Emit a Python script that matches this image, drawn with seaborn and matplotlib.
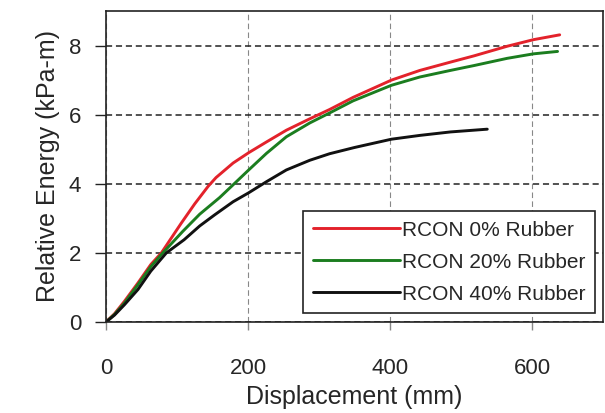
import matplotlib
matplotlib.use("Agg")
import matplotlib.pyplot as plt
import seaborn as sns
import pandas as pd

# Data
x_r0 = [0, 12, 26, 45, 63, 78, 106, 125, 144, 155, 179, 201, 226, 254, 287, 315, 348, 402, 442, 485, 518, 565, 602, 639]
y_r0 = [0, 0.24, 0.6, 1.13, 1.66, 2.0, 2.86, 3.42, 3.93, 4.18, 4.6, 4.9, 5.21, 5.55, 5.88, 6.15, 6.5, 7.0, 7.28, 7.52, 7.7, 7.98, 8.17, 8.31]

x_r20 = [0, 12, 26, 45, 63, 80, 108, 132, 160, 179, 201, 226, 254, 287, 315, 348, 402, 442, 485, 518, 565, 602, 636]
y_r20 = [0, 0.22, 0.55, 1.08, 1.6, 2.0, 2.62, 3.12, 3.6, 3.97, 4.4, 4.88, 5.36, 5.76, 6.05, 6.4, 6.85, 7.09, 7.28, 7.42, 7.63, 7.76, 7.83]

x_r40 = [0, 12, 26, 45, 63, 85, 110, 132, 153, 179, 201, 226, 254, 287, 315, 350, 402, 442, 485, 537]
y_r40 = [0, 0.2, 0.5, 0.94, 1.47, 2.0, 2.38, 2.78, 3.1, 3.48, 3.74, 4.06, 4.4, 4.68, 4.87, 5.05, 5.29, 5.4, 5.5, 5.58]

labels = ["RCON 0% Rubber", "RCON 20% Rubber", "RCON 40% Rubber"]
colors = ["#e3222b", "#1b7d1f", "#111111"]

x_ticks = [0, 200, 400, 600]
y_ticks = [0, 2, 4, 6, 8]

df = pd.concat([
    pd.DataFrame({"x": x_r0, "y": y_r0, "series": labels[0]}),
    pd.DataFrame({"x": x_r20, "y": y_r20, "series": labels[1]}),
    pd.DataFrame({"x": x_r40, "y": y_r40, "series": labels[2]}),
], ignore_index=True)

sns.set_style("white")
plt.rcParams["font.family"] = ["Liberation Sans", "DejaVu Sans"]

fig = plt.figure(figsize=(6.05, 4.13), dpi=100)
ax = fig.add_axes([106 / 605, 1 - 322 / 413, (603 - 106) / 605, (322 - 11) / 413])

sns.lineplot(data=df, x="x", y="y", hue="series", palette=dict(zip(labels, colors)),
             hue_order=labels, sort=False, estimator=None, linewidth=2.1, ax=ax,
             solid_joinstyle="round", solid_capstyle="round")

ax.set_xlim(0, 700)
ax.set_ylim(0, 9)
ax.set_xticks(x_ticks)
ax.set_yticks(y_ticks)

ax.yaxis.grid(True, color="#222222", linestyle=(0, (4, 2.5)), linewidth=1.1)
ax.xaxis.grid(True, color="#888888", linestyle=(0, (5, 3)), linewidth=0.8)
ax.set_axisbelow(True)

for s in ax.spines.values():
    s.set_color("#222222")
    s.set_linewidth(1.2)

ax.tick_params(axis="y", direction="out", length=8, width=1.0, color="#222222",
               labelsize=16, pad=10, left=True)
ax.tick_params(axis="x", direction="out", length=6, width=1.0, color="#888888",
               labelsize=16, pad=20, bottom=True)

ax.set_xlabel("Displacement (mm)", fontsize=18, labelpad=4)
ax.set_ylabel("Relative Energy (kPa-m)", fontsize=18, labelpad=6)

leg = ax.legend(loc="lower right", bbox_to_anchor=(0.984, 0.029), borderaxespad=0,
                fontsize=15, frameon=True, fancybox=False, handlelength=4.2,
                handletextpad=0.1, labelspacing=0.62, borderpad=0.45)
leg.get_frame().set_edgecolor("#222222")
leg.get_frame().set_linewidth(1.2)
leg.get_frame().set_alpha(1)
leg.set_title(None)

fig.savefig("out.png", dpi=100)
